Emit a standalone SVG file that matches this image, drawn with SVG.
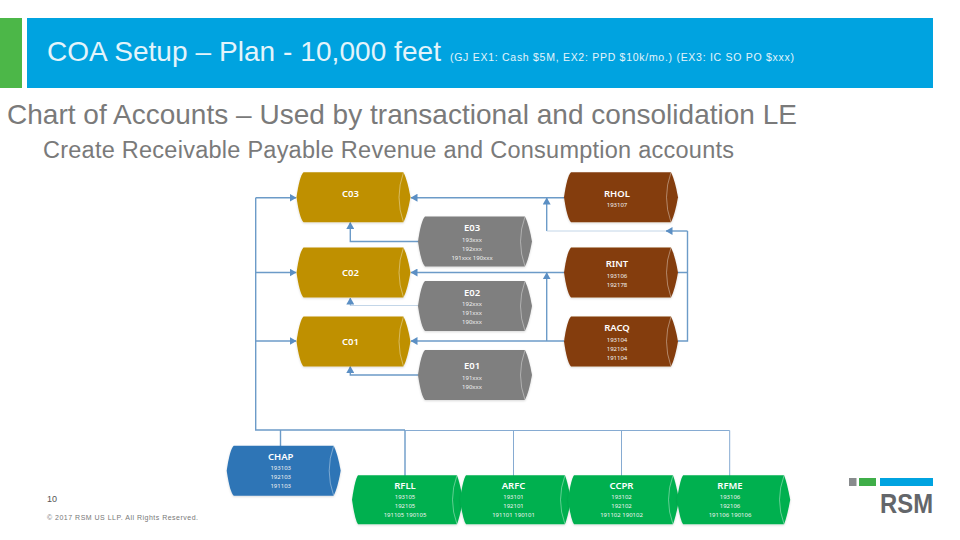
<svg xmlns="http://www.w3.org/2000/svg" width="960" height="540" viewBox="0 0 960 540">
<style>
.sans{font-family:"Liberation Sans",Arial,sans-serif}
.hd{fill:#e3f4fb}
.body{fill:#7a7a7a}
.t{font-family:"Noto Sans","Open Sans",sans-serif;font-size:9.500px;font-weight:600;fill:#fff;text-anchor:middle}
.n{font-family:"Noto Sans","Open Sans",sans-serif;font-size:6px;fill:#f2f2f2;text-anchor:middle}
.arc{fill:none;stroke:#fff;stroke-opacity:.55;stroke-width:.7}
.c{fill:none;stroke:#6c9bc8;stroke-width:1.400}
.c2{fill:none;stroke:#86abd2;stroke-width:1}
.c3{fill:none;stroke:#c3d6e8;stroke-width:1}
.gold{fill:#bf9000}.gray{fill:#7f7f7f}.brown{fill:#843c0c}.blue{fill:#2e75b6}.green{fill:#00b050}
</style>
<defs>
<path id="cyl" d="M7 0H107Q111 8 114 25Q111 42 107 50H7Q3 46 0 25Q3 4 7 0Z"/>
<path id="ins" d="M107 0Q98 25 107 50"/>
<path id="cylg" d="M6 0H105Q108 8 111 24.500Q108 41 105 49H6Q3 45 0 24.500Q3 4 6 0Z"/>
<path id="insg" d="M105 0Q96 24.500 105 49"/>
<marker id="a" markerWidth="7" markerHeight="8" refX="6.500" refY="4" orient="auto" markerUnits="userSpaceOnUse"><path d="M0 0L7 4L0 8Z" fill="#5b8fc4"/></marker>
<filter id="s" x="-5%" y="-5%" width="110%" height="115%"><feDropShadow dx="0" dy="1" stdDeviation="1" flood-color="#000" flood-opacity=".15"/></filter>
</defs>

<rect x="0" y="18" width="22" height="70" fill="#4cb748"/>
<rect x="27" y="18" width="906" height="70" fill="#00a3e0"/>
<text class="sans hd" x="47" y="61" font-size="28" textLength="394">COA Setup – Plan - 10,000 feet</text>
<text class="sans hd" x="450" y="61" font-size="10.500" textLength="344">(GJ EX1: Cash $5M, EX2: PPD $10k/mo.) (EX3: IC SO PO $xxx)</text>
<text class="sans body" x="7" y="124" font-size="28" textLength="790">Chart of Accounts – Used by transactional and consolidation LE</text>
<text class="sans body" x="43" y="158" font-size="23.500" textLength="691">Create Receivable Payable Revenue and Consumption accounts</text>

<g id="connectors">
<path class="c" d="M255.700 197.700V430H405"/>
<path class="c" marker-end="url(#a)" d="M255.700 197.700H296"/>
<path class="c" marker-end="url(#a)" d="M255.700 272.500H296"/>
<path class="c" marker-end="url(#a)" d="M255.700 341H296"/>
<path class="c" d="M280.500 430V446M405 430V476"/>
<path class="c2" d="M405 430.500H729.700M513.500 430.500V476M621.500 430.500V476M729.700 430.500V476"/>
<path class="c" marker-end="url(#a)" d="M564 197.700H411"/>
<path class="c" marker-end="url(#a)" d="M564 272.500H411"/>
<path class="c" marker-end="url(#a)" d="M564 341H411"/>
<path class="c" marker-end="url(#a)" d="M418 241.500H350.300V222.500"/>
<path class="c3" d="M418 305.500H350.300"/>
<path class="c2" marker-end="url(#a)" d="M350.300 305.500V298"/>
<path class="c" marker-end="url(#a)" d="M418 375H350.300V366.500"/>
<path class="c" marker-end="url(#a)" d="M546.700 231V198"/>
<path class="c3" d="M546.700 231H666"/>
<path class="c" marker-end="url(#a)" d="M687.500 231H666"/>
<path class="c" d="M677.500 272.500H687.500M677.500 341H687.500V231"/>
<path class="c" marker-end="url(#a)" d="M546.700 341V272.800"/>
</g>

<g id="C03" transform="translate(296.500 172.300)"><use href="#cyl" class="gold" filter="url(#s)"/><use href="#ins" class="arc"/><text class="t" x="54" y="24.500">C03</text></g>
<g id="C02" transform="translate(296.500 247.500)"><use href="#cyl" class="gold" filter="url(#s)"/><use href="#ins" class="arc"/><text class="t" x="54" y="28">C02</text></g>
<g id="C01" transform="translate(296.500 316.500)"><use href="#cyl" class="gold" filter="url(#s)"/><use href="#ins" class="arc"/><text class="t" x="54" y="28">C01</text></g>

<g id="E03" transform="translate(418 216.500)"><use href="#cyl" class="gray" filter="url(#s)"/><use href="#ins" class="arc"/><text class="t" x="54" y="14.500">E03</text><text class="n" x="54" y="25">193xxx</text><text class="n" x="54" y="34">192xxx</text><text class="n" x="54" y="43">191xxx 190xxx</text></g>
<g id="E02" transform="translate(418 281)"><use href="#cyl" class="gray" filter="url(#s)"/><use href="#ins" class="arc"/><text class="t" x="54" y="14.500">E02</text><text class="n" x="54" y="25">192xxx</text><text class="n" x="54" y="34">191xxx</text><text class="n" x="54" y="43">190xxx</text></g>
<g id="E01" transform="translate(418 350)"><use href="#cyl" class="gray" filter="url(#s)"/><use href="#ins" class="arc"/><text class="t" x="54" y="19">E01</text><text class="n" x="54" y="30">191xxx</text><text class="n" x="54" y="39">190xxx</text></g>

<g id="RHOL" transform="translate(564 172.300)"><use href="#cyl" class="brown" filter="url(#s)"/><use href="#ins" class="arc"/><text class="t" x="53" y="24.500">RHOL</text><text class="n" x="53" y="35">193107</text></g>
<g id="RINT" transform="translate(564 247.500)"><use href="#cyl" class="brown" filter="url(#s)"/><use href="#ins" class="arc"/><text class="t" x="53" y="19">RINT</text><text class="n" x="53" y="30">193106</text><text class="n" x="53" y="39">192178</text></g>
<g id="RACQ" transform="translate(564 316.500)"><use href="#cyl" class="brown" filter="url(#s)"/><use href="#ins" class="arc"/><text class="t" x="53" y="14.500">RACQ</text><text class="n" x="53" y="25">193104</text><text class="n" x="53" y="34">192104</text><text class="n" x="53" y="43">191104</text></g>

<g id="CHAP" transform="translate(226.700 445.700)"><use href="#cyl" class="blue" filter="url(#s)"/><use href="#ins" class="arc"/><text class="t" x="54" y="14">CHAP</text><text class="n" x="54" y="24.500">193103</text><text class="n" x="54" y="33.500">192103</text><text class="n" x="54" y="42">191103</text></g>

<g id="RFLL" transform="translate(352 475.300)"><use href="#cylg" class="green" filter="url(#s)"/><use href="#insg" class="arc"/><text class="t" x="53" y="14">RFLL</text><text class="n" x="53" y="24">193105</text><text class="n" x="53" y="33">192105</text><text class="n" x="53" y="42">191105 190105</text></g>
<g id="ARFC" transform="translate(460 475.300)"><use href="#cylg" class="green" filter="url(#s)"/><use href="#insg" class="arc"/><text class="t" x="53.500" y="14">ARFC</text><text class="n" x="53.500" y="24">193101</text><text class="n" x="53.500" y="33">192101</text><text class="n" x="53.500" y="42">191101 190101</text></g>
<g id="CCPR" transform="translate(568 475.300)"><use href="#cylg" class="green" filter="url(#s)"/><use href="#insg" class="arc"/><text class="t" x="53.500" y="14">CCPR</text><text class="n" x="53.500" y="24">193102</text><text class="n" x="53.500" y="33">192102</text><text class="n" x="53.500" y="42">191102 190102</text></g>
<g id="RFME" transform="translate(677 475.300)"><use href="#cylg" transform="scale(1.020 1)" class="green" filter="url(#s)"/><use href="#insg" transform="scale(1.020 1)" class="arc"/><text class="t" x="53" y="14">RFME</text><text class="n" x="53" y="24">193106</text><text class="n" x="53" y="33">192106</text><text class="n" x="53" y="42">191106 190106</text></g>

<text class="sans" x="47" y="502" font-size="9" fill="#555">10</text>
<text class="sans" x="47" y="520" font-size="7" fill="#777" textLength="151">© 2017 RSM US LLP. All Rights Reserved.</text>

<g id="logo">
<rect x="849" y="478" width="7.500" height="8" fill="#888b8d"/>
<rect x="859" y="478" width="17" height="8" fill="#3fae49"/>
<rect x="880" y="478" width="53" height="8" fill="#00a3e0"/>
<text class="sans" x="880" y="513" font-size="28" font-weight="700" fill="#63666a" textLength="53" lengthAdjust="spacingAndGlyphs">RSM</text>
</g>
</svg>
